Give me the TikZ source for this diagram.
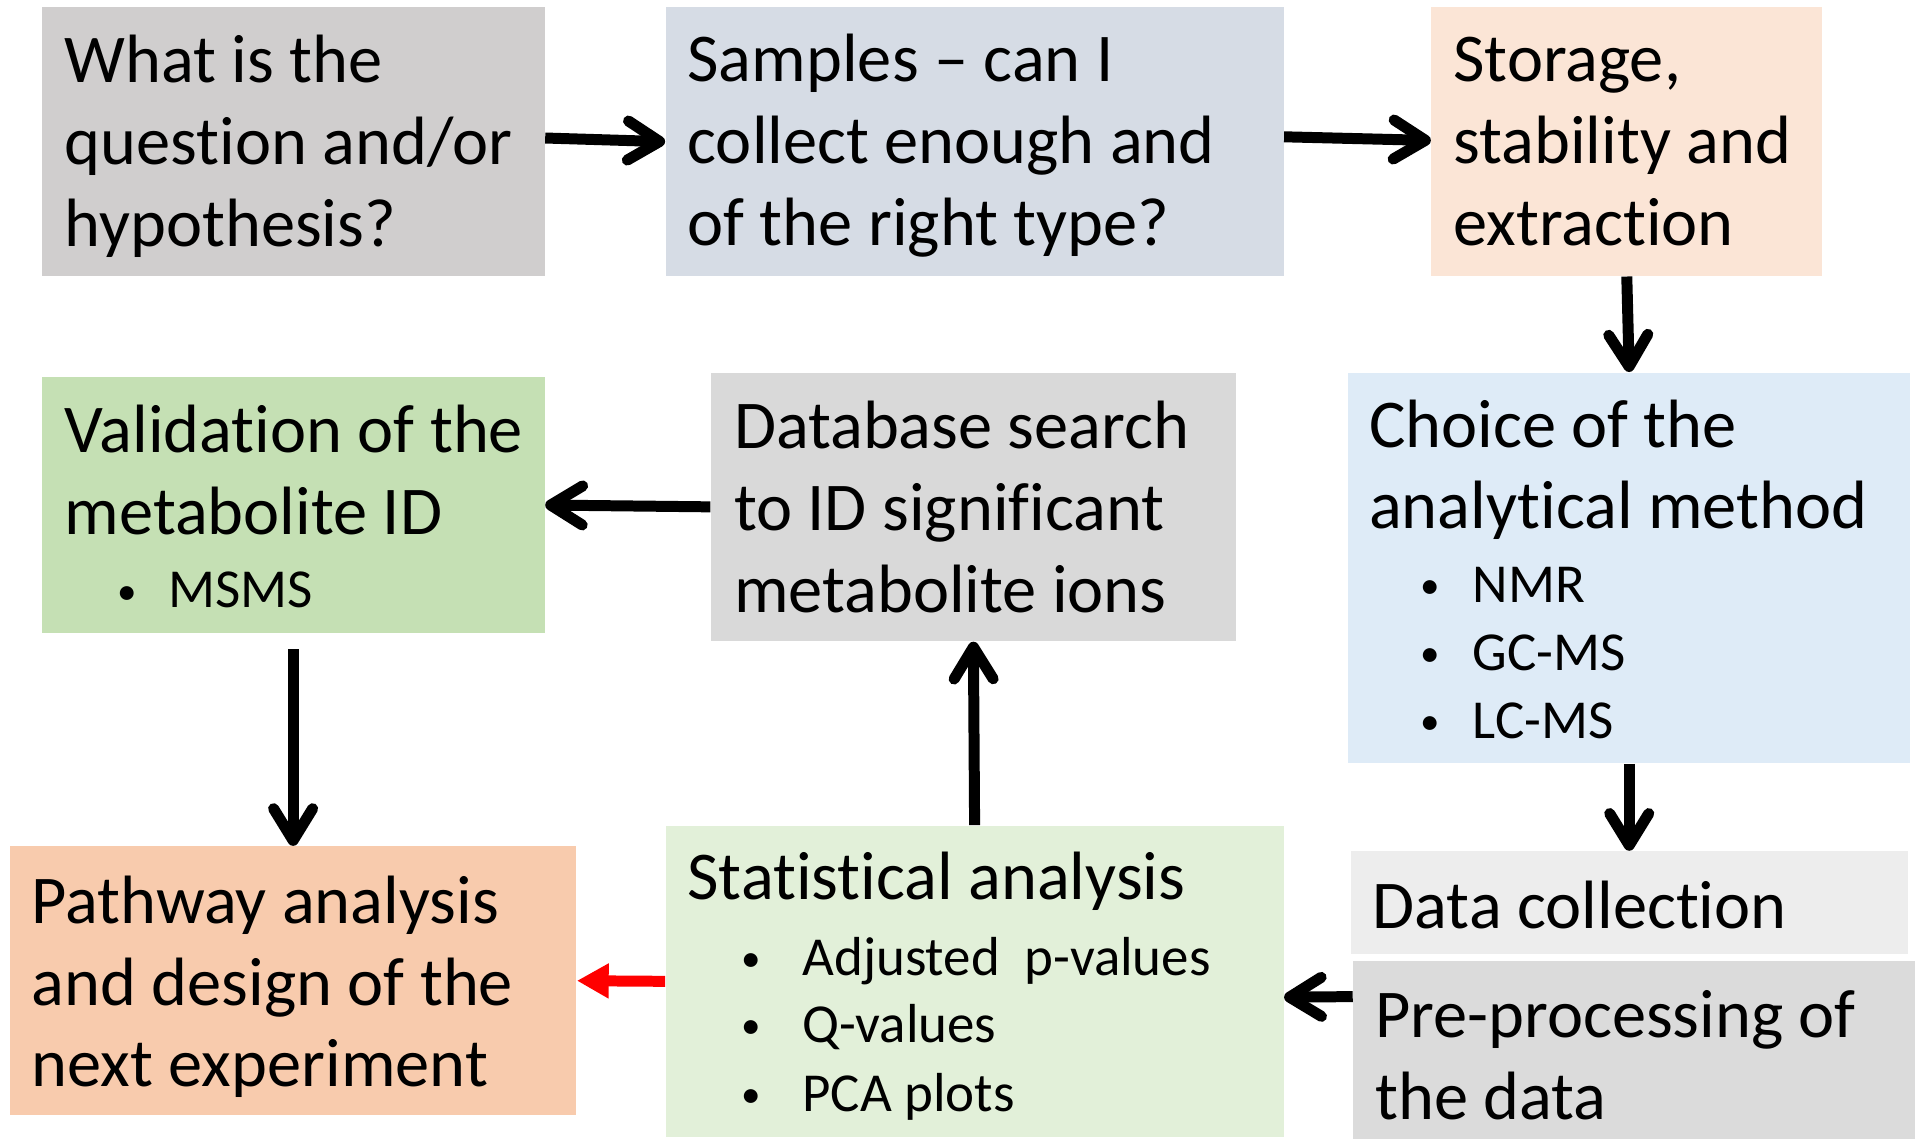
\documentclass[tikz,border=0pt]{standalone}
\usepackage{fontspec}
\setmainfont{Carlito}[Ligatures=NoCommon]
\usetikzlibrary{arrows.meta,calc,fit}
\definecolor{cA}{HTML}{D0CECE}
\definecolor{cB}{HTML}{D6DCE5}
\definecolor{cC}{HTML}{FBE5D6}
\definecolor{cD}{HTML}{DEEBF7}
\definecolor{cE}{HTML}{EDEDED}
\definecolor{cF}{HTML}{DBDBDB}
\definecolor{cG}{HTML}{E2F0D9}
\definecolor{cH}{HTML}{F8CBAD}
\definecolor{cI}{HTML}{D9D9D9}
\definecolor{cJ}{HTML}{C5E0B4}
\newcommand{\hfnt}{\fontsize{28}{33.5}\selectfont}
\newcommand{\bfnt}{\fontsize{22.5}{27}\selectfont}
\newcommand{\smbul}{\raisebox{1.6pt}{\fontsize{16}{16}\selectfont •}}
\newcommand{\bitem}[3]{{\bfnt\hspace*{#1}\makebox[#2][l]{\smbul}#3}}
\begin{document}
\begin{tikzpicture}[x=0.5pt,y=-0.5pt,
  boxst/.style={inner sep=0pt, draw=none},
  txt/.style={inner sep=0pt, anchor=west, align=left, font=\hfnt},
  arr/.style={line width=4.5pt, -{Straight Barb[length=13pt,width=16pt,round]}},
  redarr/.style={draw=red, line width=4.5pt, -{Triangle[length=13pt,width=13.5pt,fill=red]}}]
\useasboundingbox (0,0) rectangle (1568,933);
% boxes
\node[boxst, fill=cA, fit={(34,6) (446,226)}] (A) {};
\node[boxst, fill=cB, fit={(545,6) (1051,226)}] (B) {};
\node[boxst, fill=cC, fit={(1172,6) (1492,226)}] (C) {};
\node[boxst, fill=cD, fit={(1104,305) (1564,625)}] (D) {};
\node[boxst, fill=cE, fit={(1106,697) (1562,781)}] (E) {};
\node[boxst, fill=cF, fit={(1108,787) (1568,933)}] (F) {};
\node[boxst, fill=cG, fit={(545,676) (1051,931)}] (G) {};
\node[boxst, fill=cH, fit={(8,693) (472,913)}] (H) {};
\node[boxst, fill=cI, fit={(582,305) (1012,525)}] (I) {};
\node[boxst, fill=cJ, fit={(34,309) (446,518)}] (J) {};
% texts
\node[txt] (tA) at ($(A.west)+(19,4)$) {What is the\\question and/or\\hypothesis?};
\node[txt] (tB) at ($(B.west)+(18,3)$) {Samples – can I\\collect enough and\\of the right type?};
\node[txt] (tC) at ($(C.west)+(18,0)$) {Storage,\\stability and\\extraction};
\node[txt] (tD) at ($(D.west)+(17,1)$) {Choice of the\\analytical method\\[-3.5pt]\bitem{21pt}{21.5pt}{NMR}\\[-5.5pt]\bitem{21pt}{21.5pt}{GC-MS}\\[-5.75pt]\bitem{21pt}{21.5pt}{LC-MS}};
\node[txt] (tE) at ($(E.west)+(18,2)$) {Data collection};
\node[txt] (tF) at ($(F.west)+(18,4)$) {Pre-processing of\\the data};
\node[txt] (tG) at ($(G.west)+(18,4)$) {Statistical analysis\\[-2.5pt]\bitem{22pt}{25pt}{Adjusted\ \ p-values}\\[-6pt]\bitem{22pt}{25pt}{Q-values}\\[-5pt]\bitem{22pt}{25pt}{PCA plots}};
\node[txt] (tH) at ($(H.west)+(18,5)$) {Pathway analysis\\and design of the\\next experiment};
\node[txt] (tI) at ($(I.west)+(19,0)$) {Database search\\to ID significant\\metabolite ions};
\node[txt] (tJ) at ($(J.west)+(19,1.5)$) {Validation of the\\metabolite ID\\[-3.5pt]\bitem{21.5pt}{21pt}{MSMS}};
% connectors
\draw[arr] ([yshift=1.5pt]A.east) -- (B.west);
\draw[arr] ([yshift=2pt]B.east) -- ([yshift=0.5pt]C.west);
\draw[arr] (C.south) -- (D.north);
\draw[arr] (D.south) -- (E.north);
\draw[arr] ([yshift=22pt]F.west) -- ([yshift=-6.5pt]G.east);
\draw[arr] (G.north) -- (I.south);
\draw[arr] (I.west) -- (J.east);
\draw[arr] ([yshift=-6.5pt]J.south) -- (H.north);
\draw[redarr] (G.west) -- (H.east);
\end{tikzpicture}
\end{document}
